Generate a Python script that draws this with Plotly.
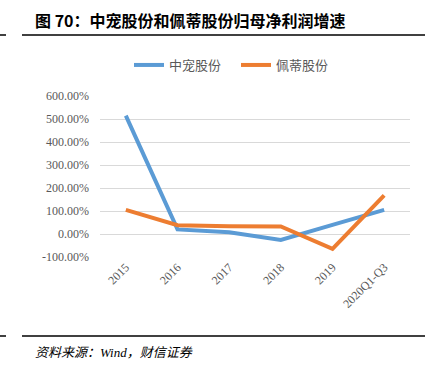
import plotly.graph_objects as go

categories = ["2015", "2016", "2017", "2018", "2019", "2020Q1-Q3"]
zhongchong = [515, 20, 8, -26, 40, 105]
peidi = [105, 38, 34, 33, -65, 168]
yticks = [-100, 0, 100, 200, 300, 400, 500, 600]
ytext = [f"{v:.2f}%" for v in yticks]

L, R, T, B = 100, 410, 96, 257
W, H = 435, 378
pw, ph = R - L, B - T


def px(x):
    return (x - L) / pw


def py(y):
    return (B - y) / ph


fig = go.Figure()
fig.add_trace(go.Scatter(x=categories, y=zhongchong, mode="lines", name="中宠股份",
                         line=dict(color="#5B9BD5", width=4)))
fig.add_trace(go.Scatter(x=categories, y=peidi, mode="lines", name="佩蒂股份",
                         line=dict(color="#ED7D31", width=4)))

shapes = []
for yy in (35, 336):
    shapes.append(dict(type="line", xref="paper", yref="paper", x0=px(22), x1=px(425),
                       y0=py(yy), y1=py(yy), line=dict(color="#000000", width=1.5)))
    shapes.append(dict(type="line", xref="paper", yref="paper", x0=px(0), x1=px(6),
                       y0=py(yy), y1=py(yy), line=dict(color="#000000", width=1.5)))

annotations = [
    dict(text="<b>图 70：中宠股份和佩蒂股份归母净利润增速</b>", xref="paper", yref="paper",
         x=px(33), y=py(20), xanchor="left", yanchor="middle", showarrow=False,
         font=dict(family="Noto Sans CJK SC", size=16, color="#000000")),
    dict(text="<i>资料来源：Wind，财信证券</i>", xref="paper", yref="paper",
         x=px(33), y=py(352), xanchor="left", yanchor="middle", showarrow=False,
         font=dict(family="Liberation Serif, Noto Sans CJK SC", size=13, color="#000000")),
]

fig.update_layout(
    width=W, height=H,
    margin=dict(l=L, r=W - R, t=T, b=H - B, pad=0, autoexpand=False),
    paper_bgcolor="white", plot_bgcolor="white",
    showlegend=True,
    legend=dict(orientation="h", x=px(129), y=py(65), xanchor="left", yanchor="middle",
                font=dict(family="Noto Sans CJK SC", size=13, color="#595959"),
                itemwidth=30, entrywidth=62, entrywidthmode="pixels",
                bgcolor="rgba(0,0,0,0)"),
    shapes=shapes,
    annotations=annotations,
    xaxis=dict(type="category", range=[-0.5, 5.5], showgrid=False, showline=False,
               zeroline=False, ticks="", tickangle=-45, automargin=False,
               tickfont=dict(family="Liberation Serif", size=12, color="#595959")),
    yaxis=dict(range=[-100, 600], tickvals=yticks, ticktext=ytext, showgrid=True,
               gridcolor="#D9D9D9", gridwidth=1, zeroline=False, showline=False,
               ticks="", ticklabelstandoff=10, automargin=False,
               tickfont=dict(family="Liberation Serif", size=12, color="#595959")),
)

fig.write_html("out.html", config={"displayModeBar": False},
               post_script="document.body.style.margin='0';")
